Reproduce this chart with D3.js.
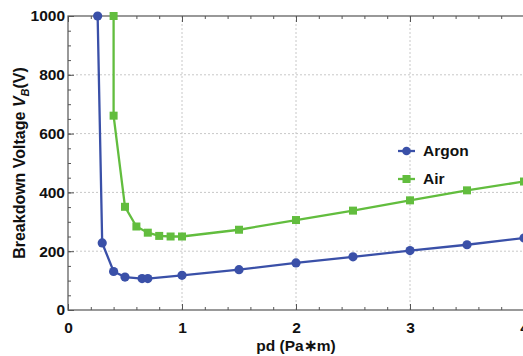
<!DOCTYPE html>
<html>
<head>
<meta charset="utf-8">
<script src="https://cdn.jsdelivr.net/npm/d3@7"></script>
<style>
  body { margin: 0; background: #fff; }
  svg { display: block; }
</style>
</head>
<body>
<div id="chart"></div>
<script>
// data
var argonPd = [0.26, 0.30, 0.40, 0.50, 0.65, 0.70, 1.0, 1.5, 2.0, 2.5, 3.0, 3.5, 4.0]
var argonV  = [1000, 228, 131, 112, 107, 107, 118, 137, 160, 181, 202, 222, 245]
var airPd = [0.40, 0.40, 0.50, 0.60, 0.70, 0.80, 0.90, 1.0, 1.5, 2.0, 2.5, 3.0, 3.5, 4.0]
var airV  = [1000, 661, 351, 284, 263, 252, 250, 250, 273, 306, 338, 373, 407, 437]
var xTicks = [0, 1, 2, 3, 4]
var yTicks = [0, 200, 400, 600, 800, 1000]

var W = 523, H = 356
var margin = {top: 16, right: -1, bottom: 46, left: 68}
var width = W - margin.left - margin.right,
    height = H - margin.top - margin.bottom

var svg = d3.select("#chart").append("svg")
    .attr("width", W).attr("height", H)
var g = svg.append("g")
    .attr("transform", "translate(" + margin.left + "," + margin.top + ")")

var x = d3.scaleLinear().domain([0, 4]).range([0, width])
var y = d3.scaleLinear().domain([0, 1000]).range([height, 0])

// grid
g.append("g").selectAll("line").data(xTicks.slice(1))
  .enter().append("line")
  .attr("x1", d => x(d)).attr("x2", d => x(d))
  .attr("y1", 0).attr("y2", height)
  .attr("stroke", "#c8c8c8").attr("stroke-dasharray", "2,2")
g.append("g").selectAll("line").data(yTicks.slice(1, -1))
  .enter().append("line")
  .attr("y1", d => y(d)).attr("y2", d => y(d))
  .attr("x1", 0).attr("x2", width)
  .attr("stroke", "#c8c8c8").attr("stroke-dasharray", "2,2")

// frame with inward ticks
var axisCol = "#555"
function styleAxis(sel) {
  sel.select(".domain").remove()
  sel.selectAll("line").attr("stroke", axisCol)
}
var xMinor = d3.range(0, 4.01, 0.2)
var yMinor = d3.range(0, 1001, 50)

g.append("g").attr("transform", "translate(0," + height + ")")
  .call(d3.axisBottom(x).tickValues(xMinor).tickSize(-3).tickFormat(""))
  .call(styleAxis)
g.append("g").attr("transform", "translate(0," + height + ")")
  .call(d3.axisBottom(x).tickValues(xTicks).tickSize(-6).tickPadding(12).tickFormat(d3.format("d")))
  .call(styleAxis)
g.append("g")
  .call(d3.axisTop(x).tickValues(xMinor).tickSize(-3).tickFormat(""))
  .call(styleAxis)
g.append("g")
  .call(d3.axisTop(x).tickValues(xTicks).tickSize(-6).tickFormat(""))
  .call(styleAxis)
g.append("g")
  .call(d3.axisLeft(y).tickValues(yMinor).tickSize(-3).tickFormat(""))
  .call(styleAxis)
g.append("g")
  .call(d3.axisLeft(y).tickValues(yTicks).tickSize(-6).tickPadding(3).tickFormat(d3.format("d")))
  .call(styleAxis)

g.selectAll(".tick text")
  .attr("fill", "#111")
  .style("font-family", "'Liberation Sans', Arial, sans-serif")
  .style("font-weight", "bold")
  .style("font-size", "15.5px")

g.append("rect")
  .attr("width", width).attr("height", height)
  .attr("fill", "none").attr("stroke", axisCol).attr("stroke-width", 1.2)

// series
var blue = "#3a50a8", green = "#62bd3e"
var argon = argonPd.map((d, i) => ({x: d, y: argonV[i]}))
var air = airPd.map((d, i) => ({x: d, y: airV[i]}))
var line = d3.line().x(d => x(d.x)).y(d => y(d.y))

g.append("path").datum(air)
  .attr("d", line).attr("fill", "none").attr("stroke", green).attr("stroke-width", 2.3)
g.append("g").selectAll("rect").data(air).enter().append("rect")
  .attr("x", d => x(d.x) - 4).attr("y", d => y(d.y) - 4)
  .attr("width", 8).attr("height", 8).attr("fill", green)

g.append("path").datum(argon)
  .attr("d", line).attr("fill", "none").attr("stroke", blue).attr("stroke-width", 2.3)
g.append("g").selectAll("circle").data(argon).enter().append("circle")
  .attr("cx", d => x(d.x)).attr("cy", d => y(d.y)).attr("r", 4.6)
  .attr("fill", blue)

// legend
var legend = svg.append("g").attr("transform", "translate(398,151)")
var items = [{name: "Argon", c: blue, shape: "circle"}, {name: "Air", c: green, shape: "square"}]
items.forEach(function (it, i) {
  var lg = legend.append("g").attr("transform", "translate(0," + (i * 28) + ")")
  lg.append("line").attr("x1", 0).attr("x2", 17).attr("stroke", it.c).attr("stroke-width", 2.3)
  if (it.shape === "circle")
    lg.append("circle").attr("cx", 8.5).attr("r", 4.3).attr("fill", it.c)
  else
    lg.append("rect").attr("x", 4.5).attr("y", -4).attr("width", 8).attr("height", 8).attr("fill", it.c)
  lg.append("text").attr("x", 25).attr("dy", "0.35em").text(it.name)
    .attr("fill", "#111")
    .style("font-family", "'Liberation Sans', Arial, sans-serif")
    .style("font-weight", "bold").style("font-size", "15.5px")
})

// axis labels
svg.append("text")
  .attr("x", 296).attr("y", 351)
  .attr("text-anchor", "middle")
  .attr("fill", "#111")
  .style("font-family", "'Liberation Sans', Arial, sans-serif")
  .style("font-weight", "bold").style("font-size", "15.5px")
  .text("pd (Pa\u2217m)")

var yl = svg.append("text")
  .attr("transform", "translate(25," + (margin.top + height / 2) + ") rotate(-90)")
  .attr("text-anchor", "middle")
  .attr("fill", "#111")
  .style("font-family", "'Liberation Sans', Arial, sans-serif")
  .style("font-weight", "bold").style("font-size", "16px")
yl.append("tspan").text("Breakdown Voltage ")
yl.append("tspan").text("V").style("font-style", "italic")
yl.append("tspan").text("B").style("font-style", "italic").style("font-size", "11px").attr("dy", 4)
yl.append("tspan").text("(V)").attr("dy", -4)
</script>
</body>
</html>
